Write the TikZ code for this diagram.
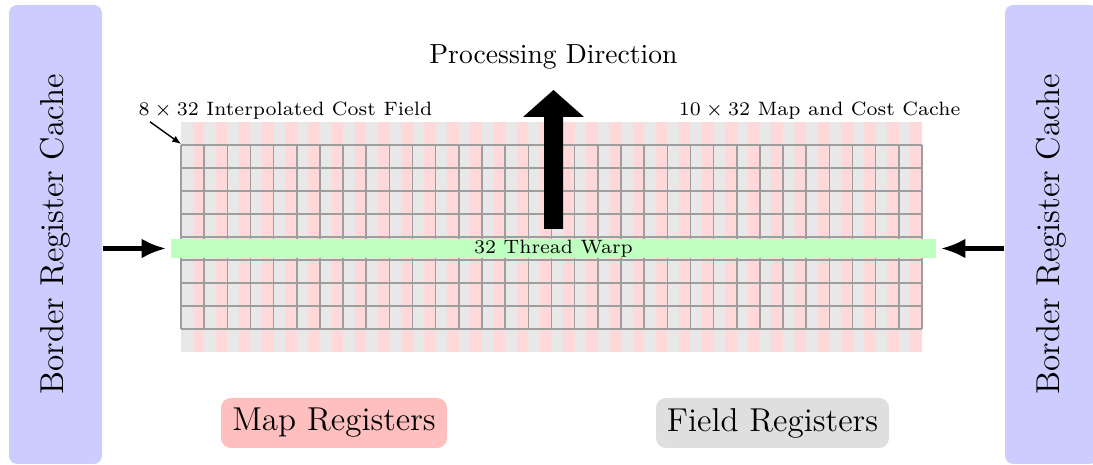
\documentclass[tikz,border=0pt]{standalone}
\usetikzlibrary{arrows.meta}
\def\upx{0.3623pt}
\begin{document}
\begin{tikzpicture}[x=0.3623pt,y=-0.3623pt,
  cachebox/.style={fill=blue!20, rounded corners=3pt, inner sep=0pt},
  regbox/.style={rounded corners=3.6pt, inner sep=0pt, font=\large},
  stripeA/.style={fill=black!9},
  stripeB/.style={fill=red!15},
  gridline/.style={draw=black!38, line width=0.55pt},
  bigarrow/.style={line width=1.8pt, -{Latex[length=9pt,width=7.2pt]}},
  smalllabel/.style={font=\scriptsize, inner sep=0pt}
]
\clip (0,0) rectangle (1093,465);

% side caches
\node[cachebox, minimum width=93*\upx, minimum height=459*\upx] (lcache) at (55.5,234.5)
  {\rotatebox{90}{\large Border Register Cache}};
\node[cachebox, minimum width=93*\upx, minimum height=459*\upx] (rcache) at (1051.5,234.5)
  {\rotatebox{90}{\large Border Register Cache}};

% register columns: map half and field half of every column
\foreach \i in {0,...,31} {
  \fill[stripeA] ({181+\i*23.156},122) rectangle ({181+(\i+0.5)*23.156},352);
  \fill[stripeB] ({181+(\i+0.5)*23.156},122) rectangle ({181+(\i+1)*23.156},352);
}
% interpolated cost field grid
\foreach \i in {0,...,32}
  \draw[gridline] ({181+\i*23.156},145) -- ({181+\i*23.156},329);
\foreach \j in {0,...,8}
  \draw[gridline] (181,{145+\j*23}) -- (922,{145+\j*23});
\coordinate (gridNW) at (181,144);

% labels above the grid
\node[smalllabel, anchor=base west] (lblfield) at (138,115.5) {$8\times32$ Interpolated Cost Field};
\node[smalllabel, anchor=base east] (lblcache) at (961,115.5) {$10\times32$ Map and Cost Cache};
\draw[line width=0.5pt, -{Latex[length=3.2pt,width=2.6pt]}] (lblfield.south west) ++(12,2) -- (gridNW);

% warp
\node[fill=green!25, minimum width=765*\upx, minimum height=19*\upx, inner sep=0pt, font=\scriptsize]
  (warp) at (553.5,248.5) {32 Thread Warp};
\draw[bigarrow] (lcache.east |- warp.west) -- ([xshift=-4*\upx]warp.west);
\draw[bigarrow] (rcache.west |- warp.east) -- ([xshift=4*\upx]warp.east);

% processing direction
\node (proc) at (553.5,57) {Processing Direction};
\coordinate (tip) at (553.5,90);
\fill (544,229) -- (544,117) -- (523,117) -- (tip) -- (584,117) -- (563,117) -- (563,229) -- cycle;

% legend
\node[regbox, fill=red!25, minimum width=226*\upx, minimum height=50*\upx] (mapreg) at (334,423) {Map Registers};
\node[regbox, fill=gray!25, minimum width=233*\upx, minimum height=50*\upx] (fieldreg) at (772.5,423) {Field Registers};
\end{tikzpicture}
\end{document}
